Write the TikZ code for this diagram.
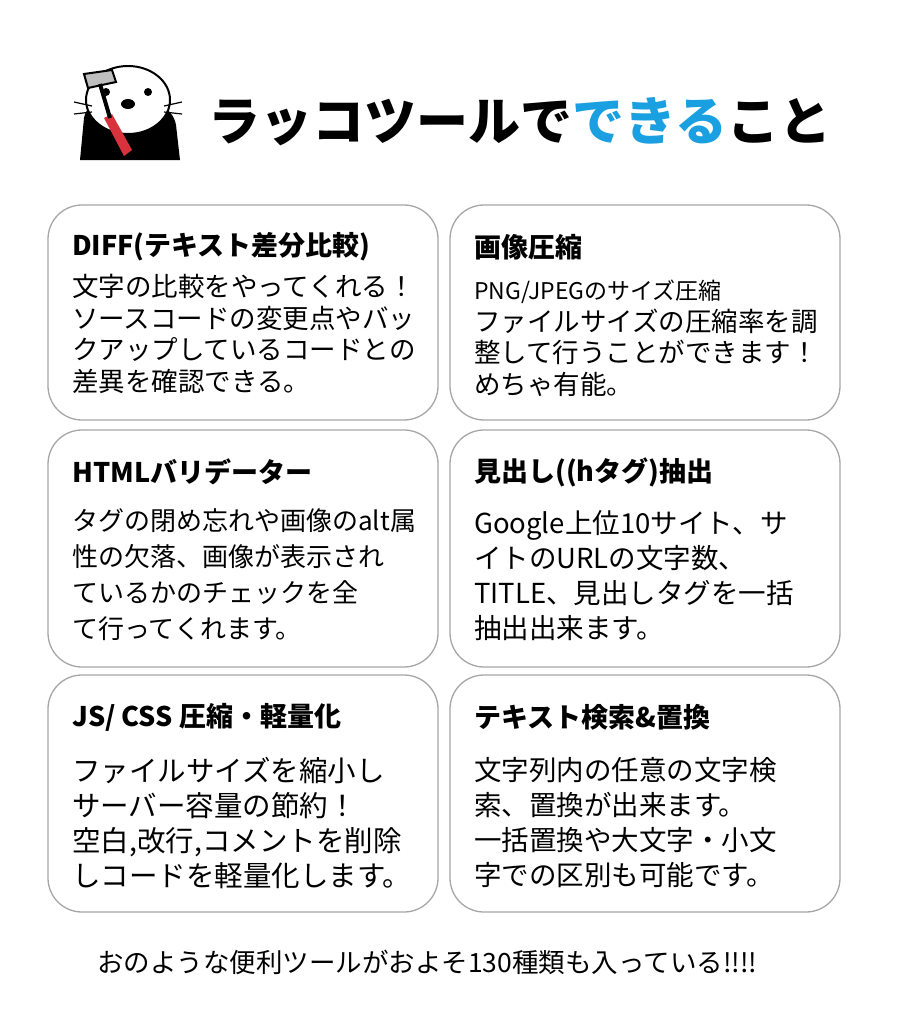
\documentclass[tikz,border=0pt]{standalone}
\usepackage{fontspec}
\setmainfont{Noto Sans CJK JP}
\usetikzlibrary{positioning}
\definecolor{rkblue}{HTML}{1AA0E0}
\definecolor{rkred}{HTML}{D8323C}
\tikzset{
  card/.style={draw=black!35, line width=1.3pt, rounded corners=34pt},
  head/.style={anchor=west, font=\bfseries\fontsize{27}{31}\selectfont, inner sep=0pt},
  body/.style={anchor=north west, align=left, inner sep=0pt},
}
\begin{document}
\begin{tikzpicture}[x=1pt,y=-1pt]
\useasboundingbox[fill=white] (0,0) rectangle (900,1030);
% mascot
\fill[black] (80,160) -- (84,118) to[out=80,in=180] (130,100) to[out=0,in=100] (176,125) -- (180,160) -- cycle;
\draw[line width=2pt, fill=white] (128,100) ellipse (42 and 34);
\fill[black] (106,92) circle (4) (148,92) circle (4);
\fill[black] (128,104) ellipse (7 and 5);
\draw[line width=1.2pt] (92,106) -- (74,102) (92,112) -- (74,114) (164,106) -- (182,102) (164,112) -- (182,114);
\fill[rkred] (104,118) -- (112,114) -- (132,150) -- (124,156) -- cycle;
\draw[line width=2pt, fill=black!25] (84,74) -- (112,70) -- (116,82) -- (88,88) -- cycle;
\draw[line width=4pt] (100,84) -- (110,118);
% title
\node[font=\bfseries\fontsize{52}{58}\selectfont, inner sep=0pt] (title) at (520,122)
  {ラッコツールで\textcolor{rkblue}{できる}こと};
% cards
\draw[card] (48,205) rectangle (438,420) coordinate (c1);
\draw[card] (450,205) rectangle (840,420) coordinate (c2);
\draw[card] (48,430) rectangle (438,667) coordinate (c3);
\draw[card] (450,430) rectangle (840,667) coordinate (c4);
\draw[card] (48,675) rectangle (438,912) coordinate (c5);
\draw[card] (450,675) rectangle (840,912) coordinate (c6);
% headings
\node[head] (h1) at (72,247) {DIFF(テキスト差分比較)};
\node[head] (h2) at (474,247) {画像圧縮};
\node[head] (h3) at (72,472) {HTMLバリデーター};
\node[head] (h4) at (474,472) {見出し((hタグ)抽出};
\node[head] (h5) at (72,717) {JS/ CSS 圧縮・軽量化};
\node[head] (h6) at (474,717) {テキスト検索\&置換};
% bodies
\node[body, font=\fontsize{26.5}{31.5}\selectfont] (b1) at (72,274)
  {文字の比較をやってくれる！\\ソースコードの変更点やバッ\\クアップしているコードとの\\差異を確認できる。};
\node[body, font=\fontsize{26.5}{31.5}\selectfont] (b2) at (474,280)
  {\fontsize{23}{31.5}\selectfont PNG/JPEGのサイズ圧縮\\ファイルサイズの圧縮率を調\\整して行うことができます！\\めちゃ有能。};
\node[body, font=\fontsize{26}{36}\selectfont] (b3) at (72,508)
  {タグの閉め忘れや画像のalt属\\性の欠落、画像が表示され\\ているかのチェックを全\\て行ってくれます。};
\node[body, font=\fontsize{27.5}{35}\selectfont] (b4) at (474,510)
  {Google上位10サイト、サ\\イトのURLの文字数、\\TITLE、見出しタグを一括\\抽出出来ます。};
\node[body, font=\fontsize{28.5}{35}\selectfont] (b5) at (72,757)
  {ファイルサイズを縮小し\\サーバー容量の節約！\\空白,改行,コメントを削除\\しコードを軽量化します。};
\node[body, font=\fontsize{27.5}{35}\selectfont] (b6) at (474,757)
  {文字列内の任意の文字検\\索、置換が出来ます。\\一括置換や大文字・小文\\字での区別も可能です。};
% footer
\node[font=\fontsize{26.5}{30}\selectfont, inner sep=0pt, anchor=west] (foot) at (97,962)
  {おのような便利ツールがおよそ130種類も入っている!!!!};
\end{tikzpicture}
\end{document}
